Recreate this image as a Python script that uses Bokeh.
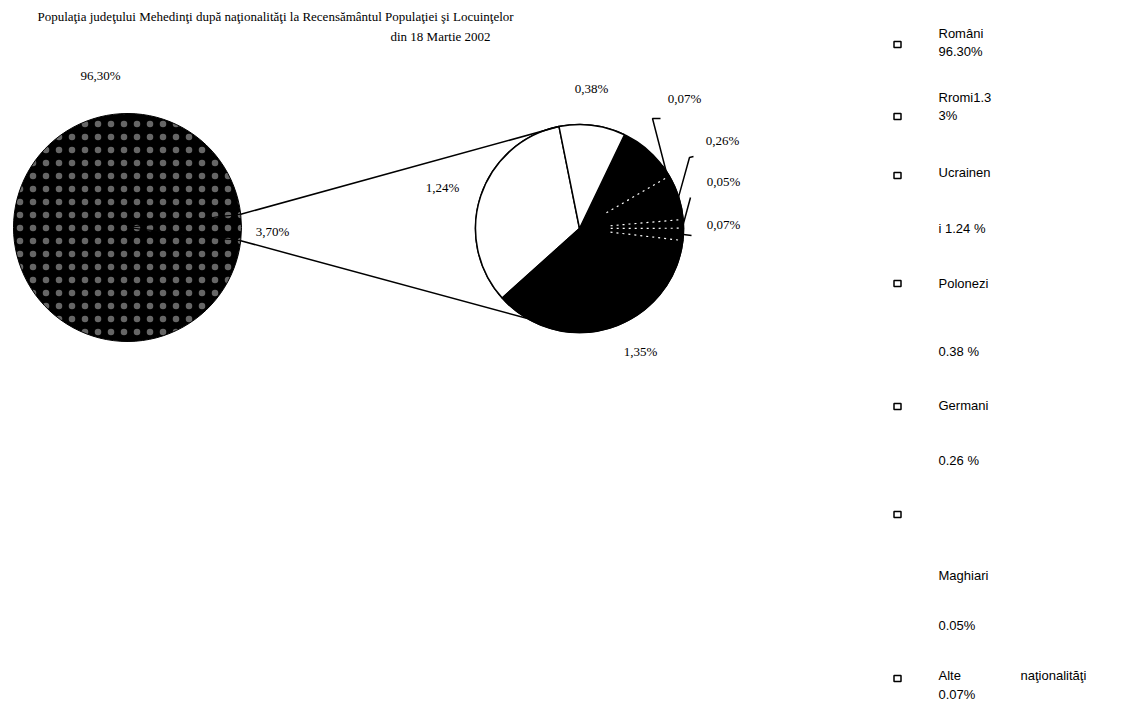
import math
from bokeh.plotting import figure
from bokeh.models import Range1d, ColumnDataSource
from bokeh.core.properties import value
from bokeh.embed import file_html
from bokeh.resources import INLINE

# ---------------- data ----------------
title_line1 = "Populaţia judeţului Mehedinţi după naţionalităţi la Recensământul Populaţiei şi Locuinţelor"
title_line2 = "din 18 Martie 2002"

main_names = ["Români", "Alte naţionalităţi (total)"]
main_values = [96.30, 3.70]

sec_names = ["Ucraineni", "Polonezi", "Alte naţionalităţi", "Germani", "Maghiari", "Alte", "Rromi"]
sec_values = [1.24, 0.38, 0.07, 0.26, 0.05, 0.07, 1.35]
sec_fill = ["white", "white", "black", "black", "black", "black", "black"]

legend_rows = [
    ["Români", "96.30%"],
    ["Rromi1.3", "3%"],
    ["Ucrainen", "i 1.24 %"],
    ["Polonezi", "0.38 %"],
    ["Germani", "0.26 %"],
    ["", "Maghiari", "0.05%"],
    ["Alte", "0.07%"],
]
legend_extra = "naţionalităţi"

# ---------------- layout ----------------
W, H = 1127, 704
def Y(y):
    return H - y

def pct(v):
    return ("%.2f" % v).replace(".", ",") + "%"

p = figure(width=W, height=H, output_backend="svg", toolbar_location=None,
           x_range=Range1d(0, W), y_range=Range1d(0, H),
           min_border=0, outline_line_color=None, background_fill_color="white",
           border_fill_color="white")
p.axis.visible = False
p.grid.visible = False

SERIF = value("Liberation Serif")
SANS = value("Liberation Sans")

# title
p.text(x=[275], y=[Y(16)], text=[title_line1], text_font=SERIF, text_font_size="13px",
       text_align="center", text_baseline="middle", text_color="black")
p.text(x=[440], y=[Y(36)], text=[title_line2], text_font=SERIF, text_font_size="13px",
       text_align="center", text_baseline="middle", text_color="black")

# ---- main pie ----
BX, BY, BR = 127, 227, 114
half = main_values[1] / sum(main_values) * math.pi
for s, e in [(half, 2 * math.pi - half), (-half, half)]:
    p.wedge(x=[BX], y=[Y(BY)], radius=BR, start_angle=s, end_angle=e,
            fill_color="black", line_color="black", line_width=1,
            hatch_pattern="dot", hatch_color="white", hatch_scale=13, hatch_alpha=0.4)
p.text(x=[100], y=[Y(75)], text=[pct(main_values[0])], text_font=SERIF, text_font_size="13px",
       text_align="center", text_baseline="middle")
p.text(x=[272], y=[Y(231)], text=[pct(main_values[1])], text_font=SERIF, text_font_size="13px",
       text_align="center", text_baseline="middle")

# ---- secondary pie ----
SX, SY, SR = 579, 228, 104
scale = 2 * math.pi / main_values[1]
anchor = math.radians(222)
p.circle(x=[SX], y=[Y(SY)], radius=SR, fill_color="black", line_color="black", line_width=1.5)

starts, ends, fills = [], [], []
a = anchor
for v, f in zip(sec_values[:2], sec_fill[:2]):
    b = a - v * scale
    starts.append(b); ends.append(a); fills.append(f)
    a = b
a = anchor - 2 * math.pi
tail = list(zip(sec_values[2:], sec_fill[2:]))
black_bounds = []
mids = {}
for idx in range(len(tail) - 1, -1, -1):
    v, f = tail[idx]
    b = a + v * scale
    starts.append(a); ends.append(b); fills.append(f)
    mids[idx] = (a + b) / 2
    black_bounds.append(b)
    a = b
src = ColumnDataSource(dict(x=[SX] * len(starts), y=[Y(SY)] * len(starts),
                            s=starts, e=ends, f=fills))
p.wedge(x="x", y="y", radius=SR, start_angle="s", end_angle="e", fill_color="f",
        line_color="black", line_width=1.5, source=src)

for ang in black_bounds[:-1]:
    x0 = SX + 0.3 * SR * math.cos(ang); y0 = SY - 0.3 * SR * math.sin(ang)
    x1 = SX + 0.98 * SR * math.cos(ang); y1 = SY - 0.98 * SR * math.sin(ang)
    p.line([x0, x1], [Y(y0), Y(y1)], line_color="white", line_width=1.2, line_dash="2 4")

sec_label_pos = [(442, 187), (591, 88), (684, 98), (722, 140), (723, 181), (723, 224), (640, 351)]
p.text(x=[q[0] for q in sec_label_pos], y=[Y(q[1]) for q in sec_label_pos],
       text=[pct(v) for v in sec_values], text_font=SERIF, text_font_size="13px",
       text_align="center", text_baseline="middle")

leader_ends = [[(652, 118), (660, 118)], [(689, 157), (693, 156)], [(690, 197)], [(691, 235)]]
for idx, pts in enumerate(leader_ends):
    m = mids[idx]
    ex = SX + SR * math.cos(m); ey = SY - SR * math.sin(m)
    xs = [ex] + [q[0] for q in pts]
    ys = [Y(ey)] + [Y(q[1]) for q in pts]
    p.line(xs, ys, line_color="black", line_width=1.5)

top_ang = anchor - sec_values[0] * scale
bot_ang = math.radians(240)
p.line([BX + BR * math.cos(half), SX + SR * math.cos(top_ang)],
       [Y(BY - BR * math.sin(half)), Y(SY - SR * math.sin(top_ang))], line_color="black", line_width=1.5)
p.line([BX + BR * math.cos(-half), SX + SR * math.cos(bot_ang)],
       [Y(BY - BR * math.sin(-half)), Y(SY - SR * math.sin(bot_ang))], line_color="black", line_width=1.5)

# ---- legend ----
LX_M, LX_T = 897, 938
row_lines_y = [[33, 51], [97, 115], [172, 228], [283, 351], [405, 460], [514, 575, 625], [675, 694]]
marker_y = [44, 116, 175, 283, 406, 514, 678]
p.rect(x=[LX_M] * len(marker_y), y=[Y(v) for v in marker_y], width=7, height=6,
       fill_color="white", line_color="black", line_width=1.5)
tx, ty, tt = [], [], []
for row, ys in zip(legend_rows, row_lines_y):
    for t, yy in zip(row, ys):
        if t:
            tx.append(LX_T); ty.append(Y(yy)); tt.append(t)
p.text(x=tx, y=ty, text=tt, text_font=SANS, text_font_size="13px",
       text_align="left", text_baseline="middle", text_color="black")
p.text(x=[1020], y=[Y(675)], text=[legend_extra], text_font=SANS, text_font_size="13px",
       text_align="left", text_baseline="middle", text_color="black")

open("out.html", "w").write(file_html(p, INLINE))
